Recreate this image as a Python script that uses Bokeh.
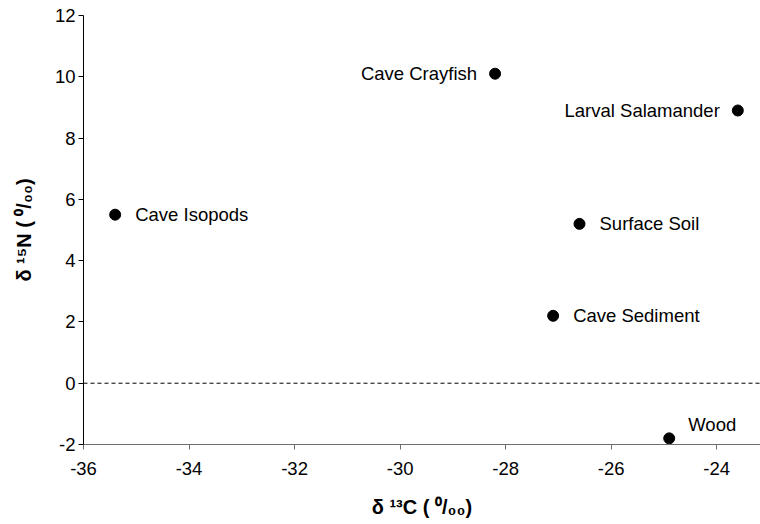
from bokeh.plotting import figure
from bokeh.models import Span, ColumnDataSource, Range1d, FixedTicker
from bokeh.embed import file_html
from bokeh.resources import INLINE
from bokeh.core.properties import value

# ---- data ----
samples = ["Cave Isopods", "Cave Crayfish", "Larval Salamander",
           "Surface Soil", "Cave Sediment", "Wood"]
d13C = [-35.4, -28.2, -23.6, -26.6, -27.1, -24.9]
d15N = [5.5, 10.1, 8.9, 5.2, 2.2, -1.8]
x_ticks = [-36, -34, -32, -30, -28, -26, -24]
y_ticks = [-2, 0, 2, 4, 6, 8, 10, 12]
x_tick_labels = ["-36", "-34", "-32", "-30", "-28", "-26", "-24"]
y_tick_labels = ["-2", "0", "2", "4", "6", "8", "10", "12"]
x_title = "δ ¹³C ( ⁰/₀₀)"
y_title = "δ ¹⁵N ( ⁰/₀₀)"

# label placement (style, not data)
label_side = ["right", "left", "left", "right", "right", "above-right"]

W, H = 760, 524
ML, MR, MT, MB = 83, 0, 15, 80
XS, XE = -36, -23.17
YS, YE = -2, 12
FONT = "Liberation Sans"

p = figure(width=W, height=H, output_backend="svg", toolbar_location=None,
           x_range=Range1d(XS, XE), y_range=Range1d(YS, YE),
           min_border_left=ML, min_border_right=MR,
           min_border_top=MT, min_border_bottom=MB)
p.outline_line_color = None
p.xgrid.visible = False
p.ygrid.visible = False
p.background_fill_color = "white"
p.border_fill_color = "white"

for ax, tks, lbls in ((p.xaxis[0], x_ticks, x_tick_labels),
                      (p.yaxis[0], y_ticks, y_tick_labels)):
    ax.ticker = FixedTicker(ticks=tks)
    ax.major_label_overrides = {t: l for t, l in zip(tks, lbls)}
    ax.major_tick_in = 0
    ax.major_tick_out = 5
    ax.minor_tick_line_color = None
    ax.major_label_text_font = FONT
    ax.major_label_text_font_size = "18.5px"
    ax.major_label_text_color = "black"
    ax.axis_label_text_font = FONT
    ax.axis_label_text_font_size = "20px"
    ax.axis_label_text_font_style = "bold"
    ax.axis_label_text_color = "black"

p.xaxis.axis_label = x_title
p.yaxis.axis_label = y_title
p.xaxis.axis_line_color = "#6e6e6e"
p.xaxis.major_tick_line_color = "#6e6e6e"
p.xaxis.major_label_standoff = 12
p.xaxis.axis_label_standoff = 18
p.yaxis.axis_line_color = "black"
p.yaxis.major_tick_line_color = "black"
p.yaxis.major_label_standoff = 3
p.yaxis.axis_label_standoff = 17

p.add_layout(Span(location=0, dimension="width", line_color="black",
                  line_width=1, line_dash="4 3"))

xo, yo, al = [], [], []
for s in label_side:
    if s == "right":
        xo.append(20); yo.append(0); al.append("left")
    elif s == "left":
        xo.append(-18); yo.append(0); al.append("right")
    else:
        xo.append(19); yo.append(-14); al.append("left")

src = ColumnDataSource(dict(x=d13C, y=d15N, name=samples, xo=xo, yo=yo, al=al))
p.scatter("x", "y", source=src, size=11, color="black")
p.text("x", "y", text="name", source=src, x_offset="xo", y_offset="yo",
       text_align="al", text_baseline="middle",
       text_font=value(FONT), text_font_size="18.5px", text_color="black")

open("out.html", "w").write(file_html(p, INLINE))
